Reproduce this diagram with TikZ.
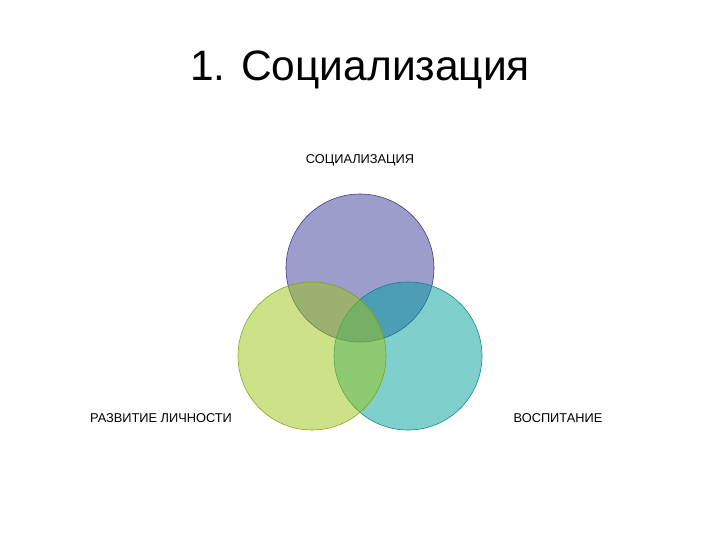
\documentclass[tikz,border=0pt]{standalone}
\usepackage{fontspec}
\setmainfont{Liberation Sans}
\definecolor{ctop}{HTML}{3A3A9C}
\definecolor{cleft}{HTML}{9CC414}
\definecolor{cright}{HTML}{00A09C}
\tikzset{
  venn/.style={circle, minimum size=148pt, inner sep=0pt, fill opacity=0.5, line width=0.6pt},
  lbl/.style={font=\fontsize{12.8}{14}\selectfont, inner sep=0pt},
}
\begin{document}
\begin{tikzpicture}[x=1pt,y=-1pt]
\useasboundingbox (0,0) rectangle (720,540);
\node[font=\fontsize{42.5}{48}\selectfont] (title) at (360,70) {1. Социализация};
\node[venn, fill=ctop, draw=ctop!80!black, draw opacity=0.9] (top) at (360,268) {};
\node[venn, fill=cright, draw=cright!80!black, draw opacity=0.9] (right) at (408,356) {};
\node[venn, fill=cleft, draw=cleft!80!black, draw opacity=0.9] (left) at (312,356) {};
\node[lbl] (ltop) at (360,160) {СОЦИАЛИЗАЦИЯ};
\node[lbl] (lleft) at (161,418) {РАЗВИТИЕ ЛИЧНОСТИ};
\node[lbl] (lright) at (558,418) {ВОСПИТАНИЕ};
\end{tikzpicture}
\end{document}
